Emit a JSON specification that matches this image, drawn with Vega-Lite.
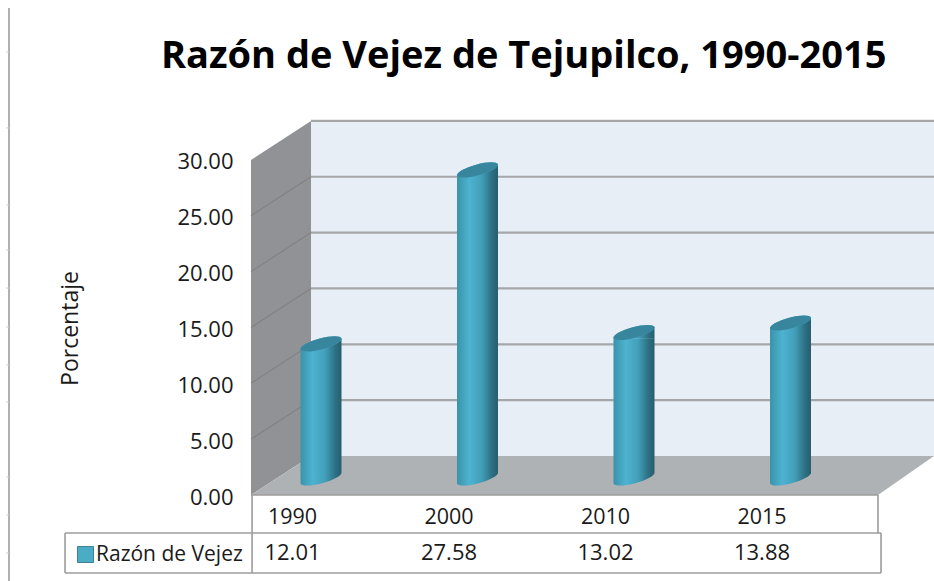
{
"$schema":"https://vega.github.io/schema/vega-lite/v6.json",
"width":934,"height":581,"padding":0,"autosize":"none","background":"white",
"title":{"text":"Razón de Vejez de Tejupilco, 1990-2015","anchor":"start","frame":"group","orient":"top","offset":-106,"dx":161,"baseline":"alphabetic","font":"Open Sans","fontWeight":"bold","fontSize":38,"color":"#000000"},
"datasets":{
"main":[{"year":"1990","x":0,"y":12.01,"label":"12.01","serie":"Razón de Vejez"},{"year":"2000","x":1,"y":27.58,"label":"27.58","serie":"Razón de Vejez"},{"year":"2010","x":2,"y":13.02,"label":"13.02","serie":"Razón de Vejez"},{"year":"2015","x":3,"y":13.88,"label":"13.88","serie":"Razón de Vejez"}],
"leftWall":[{"x":-0.5048,"y":30,"y2":0},{"x":-0.1214,"y":33.49,"y2":3.49}],
"backWall":[{"x":-0.1214,"y":33.49,"y2":3.49},{"x":3.8594,"y":33.49,"y2":3.49}],
"floor":[{"x":-0.5048,"y":0,"y2":0},{"x":-0.1214,"y":3.49,"y2":0},{"x":3.5016,"y":3.49,"y2":0},{"x":3.8594,"y":3.49,"y2":3.49}],
"gridLeft":[{"v":5,"x":-0.5048,"y":5},{"v":5,"x":-0.1214,"y":8.49},{"v":10,"x":-0.5048,"y":10},{"v":10,"x":-0.1214,"y":13.49},{"v":15,"x":-0.5048,"y":15},{"v":15,"x":-0.1214,"y":18.49},{"v":20,"x":-0.5048,"y":20},{"v":20,"x":-0.1214,"y":23.49},{"v":25,"x":-0.5048,"y":25},{"v":25,"x":-0.1214,"y":28.49}],
"gridBack":[{"v":5,"x":-0.1214,"y":8.49},{"v":5,"x":3.8594,"y":8.49},{"v":10,"x":-0.1214,"y":13.49},{"v":10,"x":3.8594,"y":13.49},{"v":15,"x":-0.1214,"y":18.49},{"v":15,"x":3.8594,"y":18.49},{"v":20,"x":-0.1214,"y":23.49},{"v":20,"x":3.8594,"y":23.49},{"v":25,"x":-0.1214,"y":28.49},{"v":25,"x":3.8594,"y":28.49},{"v":30,"x":-0.1214,"y":33.49},{"v":30,"x":3.8594,"y":33.49}],
"lines":[{"x":-0.5048,"x2":3.5016,"y":0,"y2":0},{"x":-0.498,"x2":-0.498,"y":0,"y2":-6.983},{"x":3.5016,"x2":3.5016,"y":0,"y2":-3.402},{"x":-1.693,"x2":3.521,"y":-3.402,"y2":-3.402},{"x":-1.693,"x2":3.521,"y":-6.983,"y2":-6.983},{"x":-1.693,"x2":-1.693,"y":-3.402,"y2":-6.983},{"x":3.521,"x2":3.521,"y":-3.402,"y2":-6.983},{"x":-2.051,"x2":-2.051,"y":43.6,"y2":-7.699}],
"ticks":[{"x":-2.07,"x2":-2.051,"y":39.66},{"x":-2.07,"x2":-2.051,"y":32.86},{"x":-2.07,"x2":-2.051,"y":25.96},{"x":-2.07,"x2":-2.051,"y":21.93},{"x":-2.07,"x2":-2.051,"y":18.53},{"x":-2.07,"x2":-2.051,"y":15.04},{"x":-2.07,"x2":-2.051,"y":11.64},{"x":-2.07,"x2":-2.051,"y":8.32},{"x":-2.07,"x2":-2.051,"y":1.61},{"x":-2.07,"x2":-2.051,"y":-1.79},{"x":-2.07,"x2":-2.051,"y":-5.19}]
},
"resolve":{"axis":{"y":"independent"}},
"encoding":{
"x":{"field":"x","type":"quantitative","scale":{"domain":[-2.1086,3.8594],"range":[0,934],"nice":false,"zero":false,"padding":0},"axis":null},
"y":{"field":"y","type":"quantitative","scale":{"domain":[-7.699,44.315],"range":[581,0],"nice":false,"zero":false},"axis":null}
},
"layer":[
{"data":{"name":"leftWall"},"mark":{"type":"area","color":"#909295","opacity":1},"encoding":{"y2":{"field":"y2"}}},
{"data":{"name":"backWall"},"mark":{"type":"area","color":"#e7eef6","opacity":1},"encoding":{"y2":{"field":"y2"}}},
{"data":{"name":"floor"},"mark":{"type":"area","color":"#afb2b5","opacity":1},"encoding":{"y2":{"field":"y2"}}},
{"data":{"name":"gridLeft"},"mark":{"type":"line","color":"#808285","strokeWidth":1.2},"encoding":{"detail":{"field":"v"}}},
{"data":{"name":"gridBack"},"mark":{"type":"line","color":"#a4a6a8","strokeWidth":2.2},"encoding":{"detail":{"field":"v"}}},
{"data":{"name":"lines"},"mark":{"type":"rule","color":"#9c9c9c","strokeWidth":1.6},"encoding":{"x2":{"field":"x2"},"y2":{"field":"y2"}}},
{"data":{"name":"ticks"},"mark":{"type":"rule","color":"#cfcfcf","strokeWidth":1},"encoding":{"x2":{"field":"x2"}}},
{"data":{"name":"main"},
 "mark":{"type":"point","filled":true,"opacity":1,"size":1681,"xOffset":-9,"yOffset":-17,"shape":"M-1 -0.3L1 -0.3L1 -0.266A1.035 0.27 -15 0 1 -1 0.266Z",
  "fill":{"x1":0,"y1":0,"x2":1,"y2":0,"gradient":"linear","stops":[{"offset":0,"color":"#3a93aa"},{"offset":0.3,"color":"#4db3d0"},{"offset":0.6,"color":"#429fb9"},{"offset":0.85,"color":"#2d7083"},{"offset":1,"color":"#265e6e"}]}},
 "encoding":{"y":{"datum":0,"type":"quantitative","scale":{"domain":[-7.699,44.315],"range":[581,0],"nice":false,"zero":false},"axis":null}}},
{"data":{"name":"main"},
 "mark":{"type":"bar","size":41,"xOffset":-9,"x2Offset":-9,"yOffset":-11,"y2Offset":-23,
  "fill":{"x1":0,"y1":0,"x2":1,"y2":0,"gradient":"linear","stops":[{"offset":0,"color":"#3a93aa"},{"offset":0.3,"color":"#4db3d0"},{"offset":0.6,"color":"#429fb9"},{"offset":0.85,"color":"#2d7083"},{"offset":1,"color":"#265e6e"}]}},
 "encoding":{"y2":{"datum":0},"y":{"field":"y","type":"quantitative","title":"Porcentaje","scale":{"domain":[-7.699,44.315],"range":[581,0],"nice":false,"zero":false},
  "axis":{"values":[0,5,10,15,20,25,30],"format":".2f","offset":-233,"domain":false,"ticks":false,"grid":false,"labelPadding":0,"labelOffset":2,"labelFont":"Open Sans","labelFontSize":22,"labelColor":"#1a1a1a","title":"Porcentaje","titleFont":"Open Sans","titleFontSize":23,"titleFontWeight":"normal","titleColor":"#1a1a1a","titleX":-163,"titleY":328,"titleAngle":-90,"titleAlign":"center","titleBaseline":"middle"}}}},
{"data":{"name":"main"},
 "mark":{"type":"point","filled":true,"opacity":1,"size":1681,"xOffset":-9,"yOffset":-17,"shape":"M-1 0.266L1 -0.266L1 0.3L-1 0.3Z",
  "fill":{"x1":0,"y1":0,"x2":1,"y2":0,"gradient":"linear","stops":[{"offset":0,"color":"#3a93aa"},{"offset":0.3,"color":"#4db3d0"},{"offset":0.6,"color":"#429fb9"},{"offset":0.85,"color":"#2d7083"},{"offset":1,"color":"#265e6e"}]}}},
{"data":{"name":"main"},
 "mark":{"type":"point","filled":true,"opacity":1,"size":1681,"xOffset":-9,"yOffset":-17,"shape":"M-1 0.266A1.035 0.27 -15 0 1 1 -0.266A1.035 0.27 -15 0 1 -1 0.266Z"},
 "encoding":{"color":{"field":"serie","type":"nominal","scale":{"domain":["Razón de Vejez"],"range":["#4bacc6"]},
  "legend":{"orient":"none","legendX":75,"legendY":544,"title":null,"symbolType":"square","symbolSize":256,"symbolStrokeColor":"#3f8296","symbolStrokeWidth":1,"labelFont":"Open Sans","labelFontSize":21,"labelColor":"#1a1a1a","labelOffset":0}}}},
{"data":{"name":"main"},
 "mark":{"type":"point","filled":true,"opacity":1,"size":1681,"color":"#38869e","xOffset":-9,"yOffset":-17,"shape":"M-1 0.266A1.035 0.27 -15 0 1 1 -0.266A1.035 0.27 -15 0 1 -1 0.266Z"}},
{"data":{"name":"main"},
 "mark":{"type":"text","font":"Open Sans","fontSize":21.5,"color":"#1a1a1a","xOffset":-37.5},
 "encoding":{"text":{"field":"year"},"y":{"datum":-2.1,"type":"quantitative","scale":{"domain":[-7.699,44.315],"range":[581,0],"nice":false,"zero":false},"axis":null}}},
{"data":{"name":"main"},
 "mark":{"type":"text","font":"Open Sans","fontSize":22,"color":"#1a1a1a","xOffset":-37.5},
 "encoding":{"text":{"field":"label"},"y":{"datum":-5.2,"type":"quantitative","scale":{"domain":[-7.699,44.315],"range":[581,0],"nice":false,"zero":false},"axis":null}}}
],
"config":{"view":{"stroke":null}}
}
